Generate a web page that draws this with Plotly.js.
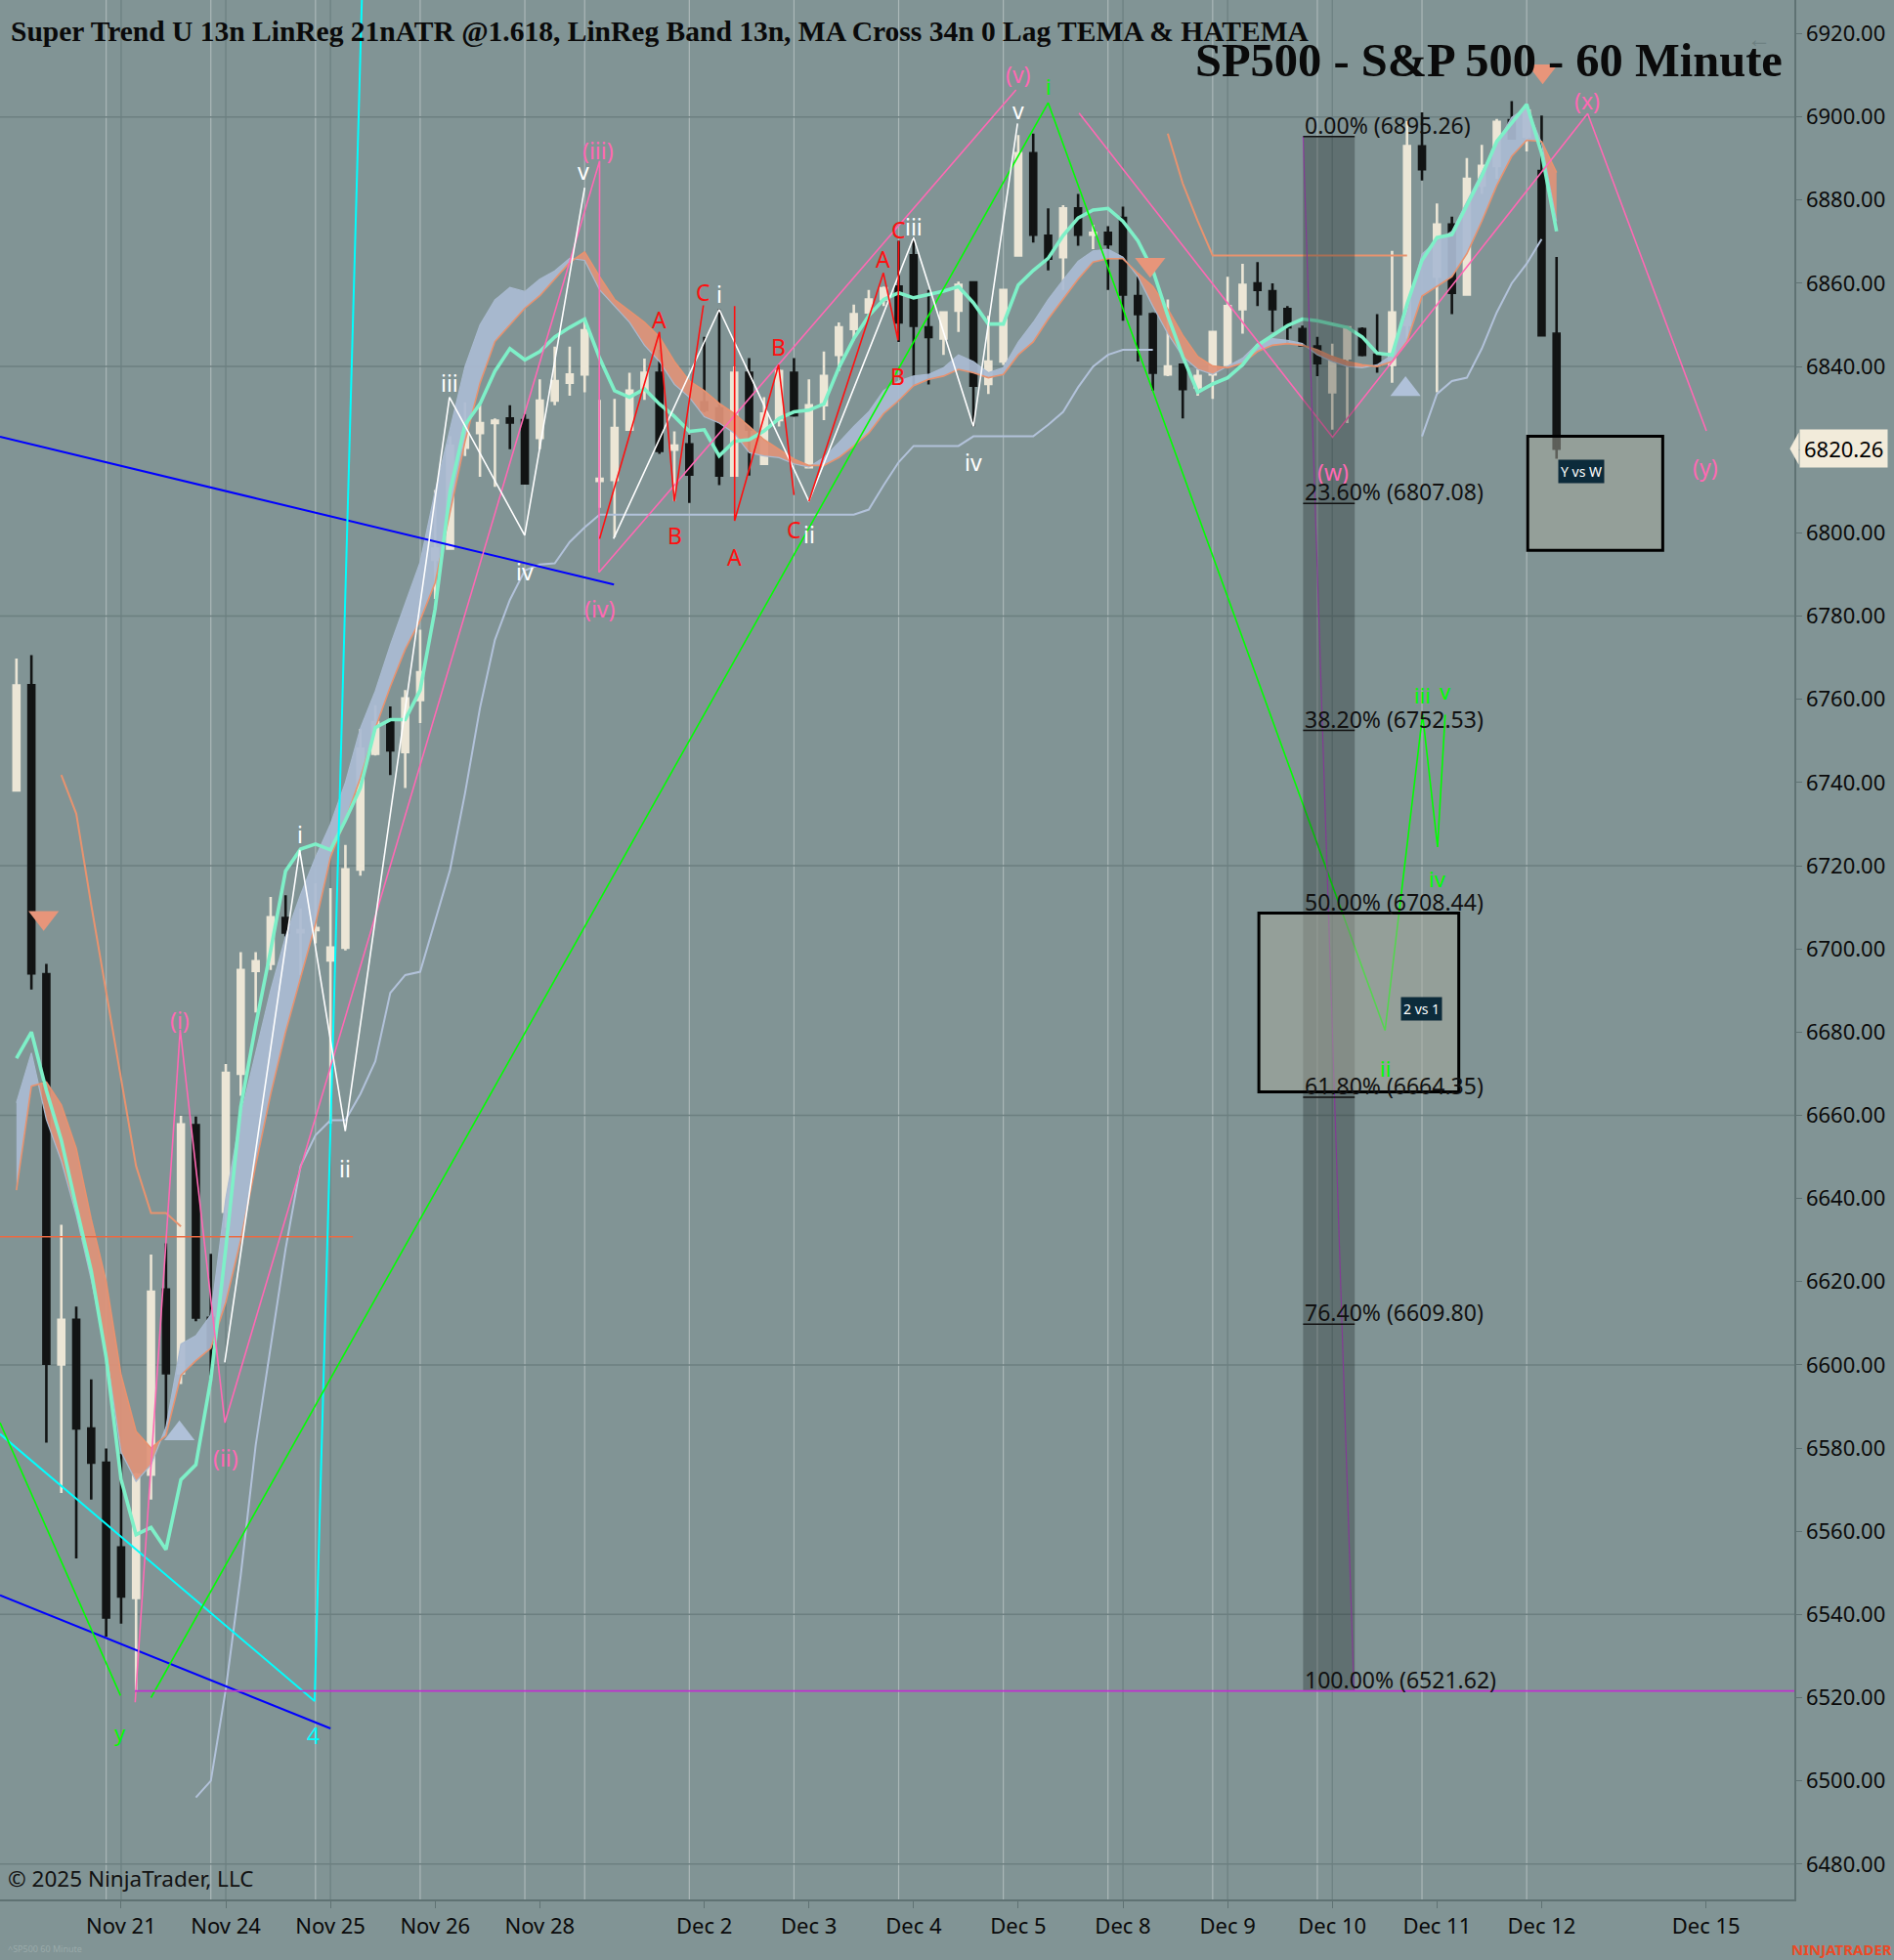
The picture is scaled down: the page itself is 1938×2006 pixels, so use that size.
<!DOCTYPE html>
<html><head><meta charset="utf-8">
<script src="https://cdn.plot.ly/plotly-3.0.1.min.js"></script>
<style>html,body{margin:0;padding:0;background:#819495;}#chart{width:1938px;height:2006px;}</style>
</head><body><div id="chart"></div>
<script>
// ---------- bar data (60 minute bars, index 0 = first bar of Nov 21) ----------
const firstBar = -7;
const opens  = [6738.1,6763.4,6693.9,6600.1,6610.8,6584.7,6576.5, 6556.1,6544.0,6573.6,6618.1,6598.0,6657.6,6611.3,
 6636.8,6670.0,6694.7,6696.4,6707.4,6704.0,6704.5, 6697.2,6700.3,6719.1,6746.9,6754.7,6747.3,6759.8,
 6793.5,6796.2,6820.5,6824.0,6826.4,6827.5,6827.1, 6822.8,6831.8,6836.1,6838.1,
 6812.5,6812.7,6824.8,6834.2,6838.5,6820.0,6821.3, 6831.4,6829.9,6813.8,6838.5,6816.6,6827.1,6838.5,
 6815.8,6830.7,6842.8,6849.0,6853.0,6856.1,6859.2, 6866.7,6849.4,6846.7,6853.4,6860.2,6835.8,6841.2,
 6866.7,6891.3,6871.4,6866.3,6878.0,6871.7,6872.1, 6875.7,6856.9,6852.6,6838.1,6840.4,6835.0,6838.1,
 6840.4,6853.8,6860.0,6858.1,6853.8,6849.0,6844.8, 6833.8,6842.0,6849.0,6842.8,6840.4,6850.0,6892.9,
 6861.6,6874.1,6857.3,6883.5,6888.2,6899.2,6895.2, 6887.0,6847.9];
const highs  = [6769.8,6770.6,6696.4,6633.7,6614.0,6596.5,6579.9, 6578.6,6574.0,6626.5,6629.2,6659.9,6659.7,6626.7,
 6672.3,6699.2,6699.2,6712.5,6712.9,6709.7,6715.8, 6714.6,6725.0,6752.9,6758.6,6758.3,6762.2,6776.7,
 6810.3,6823.2,6831.4,6830.7,6827.5,6830.7,6828.6, 6836.9,6844.8,6844.8,6851.4,
 6832.0,6832.2,6838.5,6841.9,6844.0,6824.4,6823.6, 6847.1,6853.8,6840.0,6842.0,6832.6,6839.3,6842.0,
 6836.9,6843.6,6850.6,6854.9,6858.4,6859.2,6870.2, 6871.0,6858.4,6853.0,6860.4,6860.4,6852.2,6858.4,
 6895.6,6896.0,6878.0,6878.8,6881.5,6874.1,6873.7, 6878.4,6861.6,6853.0,6856.1,6840.4,6839.3,6848.3,
 6861.6,6864.7,6865.1,6860.0,6854.5,6849.8,6847.1, 6845.5,6849.4,6849.4,6852.6,6867.8,6899.0,6901.1,
 6879.2,6876.0,6890.1,6893.3,6899.5,6903.8,6901.9, 6900.3,6866.3];
const lows   = [6738.1,6690.2,6581.3,6569.2,6553.5,6567.6,6534.6, 6537.8,6521.6,6567.6,6583.9,6595.4,6610.5,6597.5,
 6633.0,6664.7,6684.7,6694.9,6703.0,6693.7,6701.3, 6658.0,6699.6,6717.6,6746.5,6741.8,6738.7,6754.3,
 6784.1,6796.2,6818.5,6813.5,6811.1,6820.1,6811.9, 6820.1,6830.7,6833.0,6833.8,
 6806.0,6799.0,6824.8,6832.0,6819.0,6807.6,6807.2, 6829.0,6811.5,6813.8,6813.8,6816.6,6825.6,6827.9,
 6815.8,6827.1,6838.9,6846.3,6852.2,6854.5,6845.9, 6835.4,6835.7,6842.8,6848.3,6825.6,6833.4,6840.4,
 6866.7,6869.8,6863.1,6858.4,6869.0,6868.2,6858.4, 6851.0,6841.2,6834.2,6837.7,6827.5,6833.0,6832.2,
 6840.4,6847.9,6854.5,6848.3,6845.5,6844.8,6837.7, 6824.8,6826.4,6842.4,6838.5,6836.1,6846.7,6884.7,
 6833.8,6852.6,6857.3,6881.5,6885.1,6894.8,6891.7, 6847.5,6817.8];
const closes = [6763.3,6694.1,6600.3,6610.8,6584.7,6576.5,6539.3, 6544.3,6573.6,6617.6,6598.0,6657.8,6611.4,6604.0,
 6670.2,6694.9,6697.0,6707.6,6703.9,6704.5,6705.0, 6700.3,6719.1,6748.1,6754.5,6747.7,6760.2,6766.5,
 6796.2,6820.9,6824.0,6826.4,6827.0,6826.5,6811.9, 6831.8,6836.5,6838.1,6848.7,
 6813.0,6825.2,6834.2,6838.5,6819.7,6821.0,6814.0, 6829.6,6813.8,6838.5,6824.8,6828.7,6838.9,6828.3,
 6830.7,6837.7,6849.4,6852.6,6856.1,6858.8,6850.6, 6849.8,6847.1,6853.0,6859.6,6835.4,6841.2,6858.4,
 6891.3,6871.7,6865.9,6878.0,6871.7,6872.1,6869.4, 6857.3,6852.6,6838.5,6840.0,6834.6,6837.7,6848.3,
 6854.5,6859.6,6858.4,6853.8,6849.4,6845.1,6840.8, 6841.6,6849.4,6842.8,6840.4,6853.0,6893.0,6887.4,
 6874.1,6857.7,6885.1,6888.2,6898.8,6894.8,6901.5, 6847.5,6820.26];
// 0 Lag TEMA (mint line)
const tema = [6673.7,6680,6666,6654,6638,6622.6,6601.8, 6572.4,6559.2,6560.9,6555.6,6572.4,6576,6596.5,
 6628,6662,6681.6,6699.6,6718.7,6724,6725.2, 6723.8,6730.9,6738.7,6753.2,6755.1,6755.1,6762.2,
 6781.7,6810,6826,6831,6838.9,6844.3,6841.6, 6843.6,6847.1,6849.4,6851.4,
 6842,6834.2,6832.6,6834.6,6831,6828,6824.4, 6824.8,6818.5,6822,6822.4,6824.5,6827.5,6829.1,
 6829.5,6831,6839.7,6846.7,6852.2,6856.1,6857.7, 6856.5,6857.3,6858.1,6859.2,6855.3,6850.2,6850.2,
 6859.6,6863.1,6866,6871.5,6875.7,6877.6,6878, 6874.9,6870.2,6863.1,6852.2,6842.4,6833.8,6835.8,
 6837.3,6840.4,6845.1,6847.5,6849.8,6851.4,6851, 6850.2,6849.4,6847.1,6843.2,6842.8,6855,6865.5,
 6871,6871.7,6878.8,6885.8,6894.1,6898.4,6903, 6891.3,6872.5];
// MA cross: fast and slow averages (cloud)
const maFast = [6663,6675,6659,6649,6636,6620.5,6603, 6579,6572,6576,6585,6605,6607,6612,
 6640,6660,6675,6690,6703,6713,6722, 6730,6740,6753,6762,6773,6783,6793,
 6810,6825,6840,6850,6856,6859,6858, 6861,6863,6866,6865.5,
 6858.4,6854.5,6850.6,6845.1,6841.2,6835.7,6832.6, 6827.9,6826.4,6824,6819.3,6818.5,6818.1,6816.6,
 6815.8,6818.1,6821.7,6825.6,6829.1,6834.2,6836.5, 6837.7,6838.1,6839.7,6842.8,6841.2,6838.5,6839.7,
 6845.9,6850.6,6856.1,6860.8,6865.3,6867.8,6868.2, 6866.3,6861.6,6854.5,6847.9,6842.4,6839.3,6838.1,
 6840,6842,6845.5,6846.7,6846.3,6845.5,6842.8, 6841.2,6840,6839.7,6840.4,6842.8,6853,6867,
 6870.2,6872.5,6879.6,6886.6,6893.7,6899.9,6902.3, 6893.7,6874.9];
const maSlow = [6642,6667,6668,6662.5,6652,6635,6620, 6597.5,6584,6580,6583,6597.5,6601,6604,
 6615,6630,6648,6665,6680,6693,6706, 6722,6731,6741,6753,6763,6772,6779,
 6788,6805,6822,6836,6846,6850,6854, 6857,6861,6865,6867.5,
 6861.6,6856.1,6853.4,6850.6,6847.1,6841.2,6836.5, 6834.2,6831.1,6828.7,6825.6,6822.4,6820.1,6817.7,
 6816.2,6816.2,6818.1,6820.9,6824,6828.7,6831.8, 6835.4,6836.9,6837.7,6839.3,6838.5,6837.3,6838.1,
 6842.8,6845.9,6851.4,6856.1,6861,6865.1,6865.9, 6865.9,6862.4,6859.2,6853.8,6847.5,6842.4,6840.1,
 6839.7,6840.8,6843.6,6845.1,6845.5,6845.1,6844, 6842.4,6841.2,6840.4,6840,6841.2,6846,6856.9,
 6859.2,6861.6,6867.1,6874.9,6883.5,6890.5,6894.4, 6894.1,6886.6];
// Super Trend / LinReg stops: first bar index and values
const stDownA = {start:-4, v:[6741.8,6732.5,6710.6,6689.6,6669,6647.8,6636.5,6636.5,6633.3]};
const stUpA = {start:5, v:[6496,6500,6522,6549.4,6580.7,6604.8,6627.9,6647.8,6655.2,6658.8,6658.8,6665.1,6673,6689.4,6693.7,6694.5,
 6706.7,6719,6737.4,6757.9,6774.3,6783.9,6791,6792.4,6792.7,6797.8,6801.3,
 6804.4,6804.4,6804.4,6804.4,6804.4,6804.4,6804.4,6804.4,6804.4,6804.4,6804.4,6804.4,6804.4,6804.4,6804.4,6804.4,6804.4,6804.4,
 6805.6,6811.5,6817,6820.9,6820.9,6820.9,6820.9,6823.2,6823.2,6823.2,6823.2,6823.2,6826,6829.1,6835,6840,6842.8,6844,6844,6844]};
const stDownB = {start:70, v:[6896,6884,6875,6866.7,6866.7,6866.7,6866.7,6866.7,6866.7,6866.7,6866.7,6866.7,6866.7,6866.7,6866.7,6866.7,6866.7]};
const stUpB = {start:87, v:[6823.2,6833.4,6836.5,6837.3,6844.3,6853,6860,6864.7,6870.6]};

// ---------- axes ----------
const dateTicks  = [0,7,14,21,28,39,46,53,60,67,74,81,88,95,106];
const dateLabels = ['Nov 21','Nov 24','Nov 25','Nov 26','Nov 28','Dec 2','Dec 3','Dec 4','Dec 5','Dec 8','Dec 9','Dec 10','Dec 11','Dec 12','Dec 15'];
const sessionBreaks = [-1,6,13,20,27,31,38,45,52,59,66,73,80,87,94];
const dayGrid = [0,7,14,67,74,81];
const priceGrid = [6480,6540,6600,6660,6720,6780,6840,6900];
const xRange = [-8.1, 111.9];
const yRange = [6471.5, 6928.1];
const lastPrice = 6820.26;

// ---------- drawings: [bar index, price] ----------
const blueTrend1 = [[-8.1,6823.1],[32.96,6787.6]];
const blueTrend2 = [[-8.1,6544.6],[14.0,6512.6]];
const cyanLine = [[-8.1,6583.4],[12.94,6519.2],[16.2,6941]];
const orangeLevel = [[-8.1,6630.8],[15.5,6630.8]];
const greenWaveA = [[-8.1,6586.1],[-0.04,6520.5]];
const greenWaveB = [[2.0,6520.0],[62.0,6903.4],[84.53,6680.4],[87.04,6756.3],[88.04,6724.5],[88.55,6756.3]];
const pinkWaveA = [[0.94,6518.9],[3.95,6680.6],[6.94,6586.1],[32.0,6889.4],[31.96,6790.5],[59.85,6906.5]];
const pinkWaveB = [[64.07,6900.9],[81.02,6823.0],[98.08,6900.8],[106.02,6824.5]];
const whiteWaveA = [[6.93,6600.6],[11.94,6723.8],[14.99,6656.2],[21.96,6832.6],[26.99,6799.4],[31.0,6883.0]];
const whiteWaveB = [[32.93,6798.6],[40.0,6853.7],[46.0,6807.6],[53.0,6871.0],[57.0,6825.6],[59.95,6898.4]];
const redABC1 = [[32.0,6798.6],[36.0,6848.3],[37.0,6807.6],[38.94,6854.7]];
const redABC2 = [[41.03,6854.5],[41.03,6802.9],[43.97,6840.4],[45.0,6809.1]];
const redABC3 = [[46.0,6807.6],[50.98,6862.5],[51.96,6846.3],[52.0,6870.2]];
const fibColumnLine = [[79.05,6895.26],[82.45,6521.62]];

// labels: [text, bar index, price]
const pinkLabels = [['(iii)',31.9,6891.9],['(iv)',31.98,6781.8],['(v)',60.0,6910.3],['(i)',3.94,6682.9],['(ii)',6.99,6577.6],
 ['(w)',81.07,6814.6],['(x)',98.06,6903.8],['(y)',105.97,6815.9]];
const whiteLabels = [['v',30.9,6887],['iii',21.96,6836.1],['iv',26.97,6790.7],['i',11.94,6727.5],['ii',14.99,6647.3],
 ['i',40.0,6857.3],['ii',46.0,6799.7],['iii',53.0,6873.6],['iv',57.0,6817],['v',59.98,6901.5]];
const redLabels = [['A',35.97,6851.4],['B',37.0,6799.4],['C',38.95,6857.8],['A',41.03,6794.3],['B',43.97,6844.7],['C',45.0,6800.9],
 ['A',50.97,6865.9],['B',51.95,6837.7],['C',52.0,6872.9]];
const greenLabels = [['i',62.04,6907.5],['ii',84.53,6671.4],['iii',87.04,6761.1],['iv',88.04,6717],['v',88.55,6762],['y',-0.04,6511.6]];
const cyanLabels = [['4',12.88,6511]];

// fib retracement
const fibPct = ['0.00%','23.60%','38.20%','50.00%','61.80%','76.40%','100.00%'];
const fibPrice = [6895.26,6807.08,6752.53,6708.44,6664.35,6609.80,6521.62];
const fibSpan = [79.05,82.5];
const fibFullStart = 0.92;

// boxes: [x0,x1,y0,y1]
const boxYvsW = [94.07,103.1,6795.8,6823.2];
const box2vs1 = [76.09,89.46,6665.6,6708.6];
const boxLabels = [['Y vs W',96.08,6814.7],['2 vs 1',85.54,6685.5]];

// signal markers
const sellSignals = {x:[-5.18,68.82,95.07], y:[6707.5,6864.5,6911]};
const buySignals  = {x:[3.9,85.9], y:[6583.5,6834.5]};

// ---------- colours ----------
const BG='#819495', CREAM='#ece6d6', DARK='#121414';
const BLUEFILL='rgba(170,187,211,0.92)', SALMONFILL='rgba(224,146,120,0.92)';
const SLOWLINE='#e8926f', FASTLINE='#a9bad0';
const MINT='#7ef0c8', STBLUE='#b2c2da', STSALMON='#e8936f';
const PINK='#ff69b4', RED='#ff1010', GREEN='#00ff00', CYAN='#00ffff', BLUE='#0000ff';

// ---------- build ----------
const xs = opens.map((_,k)=>firstBar+k);
const traces = [];
const L = (pts,color,width)=>({type:'scatter',mode:'lines',x:pts.map(p=>p[0]),y:pts.map(p=>p[1]),
  line:{color:color,width:width},hoverinfo:'skip',showlegend:false});

// cloud, split where fast/slow cross
(function(){
  const runs=[]; let run=null;
  for(let k=0;k<xs.length;k++){
    const d=maFast[k]-maSlow[k], up=d>=0;
    if(!run){run={up,x:[xs[k]],f:[maFast[k]],s:[maSlow[k]]};continue;}
    if(up===run.up){run.x.push(xs[k]);run.f.push(maFast[k]);run.s.push(maSlow[k]);}
    else{
      const dp=maFast[k-1]-maSlow[k-1], t=dp/(dp-d);
      const cx=xs[k-1]+t, cy=maSlow[k-1]+t*(maSlow[k]-maSlow[k-1]);
      run.x.push(cx);run.f.push(cy);run.s.push(cy);runs.push(run);
      run={up,x:[cx,xs[k]],f:[cy,maFast[k]],s:[cy,maSlow[k]]};
    }
  }
  runs.push(run);
  runs.forEach(r=>{
    traces.push({type:'scatter',mode:'lines',x:r.x,y:r.s,line:{width:0,color:'rgba(0,0,0,0)'},hoverinfo:'skip',showlegend:false});
    traces.push({type:'scatter',mode:'lines',x:r.x,y:r.f,fill:'tonexty',fillcolor:r.up?BLUEFILL:SALMONFILL,
      line:{width:0,color:'rgba(0,0,0,0)'},hoverinfo:'skip',showlegend:false});
  });
  traces.push({type:'scatter',mode:'lines',x:xs,y:maFast,line:{color:FASTLINE,width:1.2},hoverinfo:'skip',showlegend:false});
  traces.push({type:'scatter',mode:'lines',x:xs,y:maSlow,line:{color:SLOWLINE,width:1.6},hoverinfo:'skip',showlegend:false});
})();

const stTrace=(st,color)=>({type:'scatter',mode:'lines',x:st.v.map((_,k)=>st.start+k),y:st.v,line:{color:color,width:2},hoverinfo:'skip',showlegend:false});
traces.push(stTrace(stUpA,STBLUE), stTrace(stUpB,STBLUE), stTrace(stDownA,STSALMON), stTrace(stDownB,STSALMON));
traces.push(L(orangeLevel,'#ec6a42',1.5));

traces.push({type:'candlestick',x:xs,open:opens,high:highs,low:lows,close:closes,whiskerwidth:0,
  increasing:{line:{color:CREAM,width:2.6},fillcolor:CREAM},
  decreasing:{line:{color:DARK,width:2.6},fillcolor:DARK},hoverinfo:'skip',showlegend:false});

traces.push({type:'scatter',mode:'lines',x:xs,y:tema,line:{color:MINT,width:3.6},hoverinfo:'skip',showlegend:false});

traces.push(L(blueTrend1,BLUE,2), L(blueTrend2,BLUE,2), L(cyanLine,CYAN,2),
  L(greenWaveA,GREEN,1.6), L(greenWaveB,GREEN,1.6),
  L(pinkWaveA,PINK,1.6), L(pinkWaveB,PINK,1.6),
  L(whiteWaveA,'#ffffff',1.6), L(whiteWaveB,'#ffffff',1.6),
  L(redABC1,RED,1.6), L(redABC2,RED,1.6), L(redABC3,RED,1.6),
  L(fibColumnLine,'#b448c8',1.2));

traces.push({type:'scatter',mode:'markers',x:sellSignals.x,y:sellSignals.y,marker:{symbol:'triangle-down',size:27,color:'#e8957a'},hoverinfo:'skip',showlegend:false});
traces.push({type:'scatter',mode:'markers',x:buySignals.x,y:buySignals.y,marker:{symbol:'triangle-up',size:27,color:'#b0c1d9'},hoverinfo:'skip',showlegend:false});

// ---------- shapes ----------
const shapes=[];
priceGrid.forEach(p=>shapes.push({type:'line',layer:'below',xref:'x',yref:'y',x0:xRange[0],x1:xRange[1],y0:p,y1:p,line:{color:'#6c7f80',width:1.5}}));
sessionBreaks.forEach(b=>shapes.push({type:'line',layer:'below',xref:'x',yref:'paper',x0:b,x1:b,y0:0,y1:1,line:{color:'rgba(206,214,214,0.55)',width:1.2}}));
dayGrid.forEach(b=>shapes.push({type:'line',layer:'below',xref:'x',yref:'paper',x0:b,x1:b,y0:0,y1:1,line:{color:'#6c7f80',width:1.2}}));
shapes.push({type:'rect',layer:'above',xref:'x',yref:'y',x0:fibSpan[0],x1:fibSpan[1],y0:fibPrice[fibPrice.length-1],y1:fibPrice[0],fillcolor:'rgba(20,30,30,0.30)',line:{width:0}});
fibPrice.slice(0,-1).forEach(p=>shapes.push({type:'line',layer:'above',xref:'x',yref:'y',x0:fibSpan[0],x1:fibSpan[1],y0:p,y1:p,line:{color:'#111',width:1.6}}));
shapes.push({type:'line',layer:'above',xref:'x',yref:'y',x0:fibFullStart,x1:xRange[1],y0:fibPrice[6],y1:fibPrice[6],line:{color:'#c030d0',width:1.6}});
[boxYvsW,box2vs1].forEach(b=>shapes.push({type:'rect',layer:'above',xref:'x',yref:'y',x0:b[0],x1:b[1],y0:b[2],y1:b[3],fillcolor:'rgba(168,170,158,0.5)',line:{color:'#000',width:3}}));
// price pointer
shapes.push({type:'path',layer:'above',xref:'paper',yref:'y',path:`M 0.9975 ${lastPrice} L 1.0025 ${lastPrice+3.9} L 1.0025 ${lastPrice-3.9} Z`,fillcolor:'#f2ebda',line:{width:0}});

// ---------- annotations ----------
const ann=[];
const lab=(arr,color,size)=>arr.forEach(a=>ann.push({x:a[1],y:a[2],xref:'x',yref:'y',text:a[0],showarrow:false,font:{family:'Noto Sans',size:size,color:color}}));
lab(pinkLabels,PINK,23); lab(whiteLabels,'#ffffff',23); lab(redLabels,RED,23); lab(greenLabels,GREEN,22); lab(cyanLabels,CYAN,23);
fibPct.forEach((t,k)=>ann.push({x:fibSpan[0],y:fibPrice[k],xref:'x',yref:'y',xanchor:'left',yanchor:'bottom',yshift:-6,
  text:`${t} (${fibPrice[k].toFixed(2)})`,showarrow:false,font:{family:'Noto Sans',size:23,color:'#111'}}));
boxLabels.forEach(b=>ann.push({x:b[1],y:b[2],xref:'x',yref:'y',xanchor:'left',text:b[0],showarrow:false,bgcolor:'#0c2b3b',borderpad:2,
  font:{family:'Noto Sans',size:14,color:'#fff'}}));
ann.push({x:0.005,y:0.9835,xref:'paper',yref:'paper',xanchor:'left',yanchor:'middle',showarrow:false,
  text:'<b>Super Trend U 13n LinReg 21nATR @1.618, LinReg Band 13n, MA Cross 34n 0 Lag TEMA &amp; HATEMA</b>',
  font:{family:'Liberation Serif',size:29.5,color:'#0a0a0a'}});
ann.push({x:0.9943,y:0.9686,xref:'paper',yref:'paper',xanchor:'right',yanchor:'middle',showarrow:false,
  text:'<b>SP500 - S&amp;P 500 - 60 Minute</b>',font:{family:'Liberation Serif',size:48.5,color:'#0a0a0a'}});
ann.push({x:0.003,y:0.011,xref:'paper',yref:'paper',xanchor:'left',yanchor:'middle',showarrow:false,
  text:'© 2025 NinjaTrader, LLC',font:{family:'Noto Sans',size:22.5,color:'#111'}});
ann.push({x:0.988,y:0.9897,xref:'paper',yref:'paper',showarrow:false,text:'←',font:{family:'Noto Sans',size:24,color:'#6c7f80'}});
ann.push({x:1.0025,y:lastPrice,xref:'paper',yref:'y',xanchor:'left',yanchor:'middle',showarrow:false,text:lastPrice.toFixed(2),
  bgcolor:'#f2ebda',borderpad:4,font:{family:'Noto Sans',size:22,color:'#000'}});
ann.push({x:1938/1836,y:-0.026,xref:'paper',yref:'paper',xanchor:'right',yanchor:'middle',showarrow:false,
  text:'<b>NINJATRADER</b>',font:{family:'Noto Sans',size:15,color:'#ec4a26'}});
ann.push({x:0.003,y:-0.026,xref:'paper',yref:'paper',xanchor:'left',yanchor:'middle',showarrow:false,
  text:'^SP500 60 Minute',font:{family:'Noto Sans',size:9,color:'#9aaaaa'}});

const layout={
  width:1938,height:2006,paper_bgcolor:BG,plot_bgcolor:BG,showlegend:false,
  margin:{l:0,r:102,t:0,b:62},
  font:{family:'Noto Sans',color:'#0a0a0a'},
  boxgap:0.44,boxgroupgap:0.3,
  xaxis:{range:xRange,rangeslider:{visible:false},tickvals:dateTicks,ticktext:dateLabels,showgrid:false,zeroline:false,
    showline:true,linecolor:'#5f7273',linewidth:1.5,ticks:'outside',ticklen:7,tickcolor:'#5f7273',
    tickfont:{family:'Noto Sans',size:22,color:'#0a0a0a'},fixedrange:true},
  yaxis:{range:yRange,side:'right',tick0:6480,dtick:20,tickformat:'.2f',showgrid:false,zeroline:false,
    showline:true,linecolor:'#5f7273',linewidth:1.5,ticks:'outside',ticklen:6,tickcolor:'#5f7273',
    tickfont:{family:'Noto Sans',size:22,color:'#0a0a0a'},fixedrange:true},
  shapes:shapes,annotations:ann
};
Plotly.newPlot('chart',traces,layout,{staticPlot:true,displayModeBar:false});
</script></body></html>
